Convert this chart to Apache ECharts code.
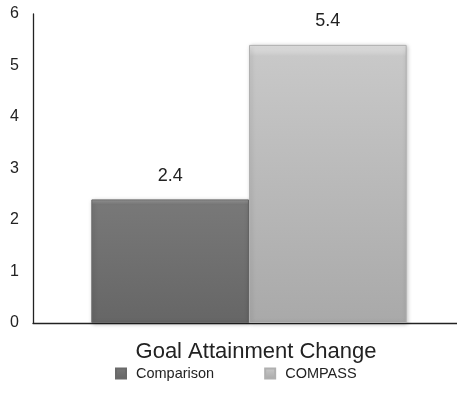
<!DOCTYPE html>
<html>
<head>
<meta charset="utf-8">
<style>
  html, body { margin: 0; padding: 0; background: #fff; overflow: hidden; }
  #chart { width: 465px; height: 409px; }
</style>
<script src="https://cdn.jsdelivr.net/npm/echarts@6/dist/echarts.min.js"></script>
</head>
<body>
<div id="chart"></div>
<script>
// Goal attainment change by group
const categories = ['Goal Attainment Change'];
const seriesNames = ['Comparison', 'COMPASS'];
const comparisonValues = [2.4];
const compassValues = [5.4];
const yTicks = [0, 1, 2, 3, 4, 5, 6];

const chart = echarts.init(document.getElementById('chart'), null, { renderer: 'canvas' });

function bevelFill(top, mid, bottom) {
  return new echarts.graphic.LinearGradient(0, 0, 0, 1, [
    { offset: 0, color: top },
    { offset: 0.04, color: mid },
    { offset: 1, color: bottom }
  ]);
}

const font = 'Liberation Sans, Arial, Helvetica, sans-serif';

chart.setOption({
  animation: false,
  textStyle: { fontFamily: font },
  grid: { left: 33, right: 0, top: 14, height: 309, containLabel: false },
  legend: {
    data: seriesNames,
    top: 361,
    left: 110,
    itemWidth: 10,
    itemHeight: 10,
    itemGap: 50,
    icon: 'rect',
    textStyle: { fontSize: 14.5, color: '#222', fontFamily: font, padding: [0, 0, 0, 5] }
  },
  xAxis: {
    type: 'category',
    data: categories,
    axisLine: { lineStyle: { color: '#222', width: 1.3 } },
    axisTick: { show: false },
    axisLabel: { fontSize: 22, color: '#222', margin: 18, fontFamily: font, padding: [0, 0, 0, 14] }
  },
  yAxis: {
    type: 'value',
    min: yTicks[0],
    max: yTicks[yTicks.length - 1],
    interval: 1,
    splitLine: { show: false },
    axisLine: { show: true, lineStyle: { color: '#222', width: 1.3 } },
    axisTick: { show: false },
    axisLabel: { fontSize: 16, color: '#222', margin: 14, fontFamily: font }
  },
  series: [
    {
      name: seriesNames[0],
      type: 'bar',
      data: comparisonValues,
      barWidth: '36.5%',
      barGap: '0%',
      itemStyle: {
        color: bevelFill('#9a9a9a', '#787878', '#666666'),
        borderColor: '#6a6a6a',
        borderWidth: 1,
        shadowColor: 'rgba(0,0,0,0.25)',
        shadowBlur: 4,
        shadowOffsetX: 1,
        shadowOffsetY: 1
      },
      label: { show: true, position: 'top', distance: 14, fontSize: 18, color: '#222', fontFamily: font }
    },
    {
      name: seriesNames[1],
      type: 'bar',
      data: compassValues,
      barWidth: '36.5%',
      barGap: '0%',
      itemStyle: {
        color: bevelFill('#e6e6e6', '#c8c8c8', '#a9a9a9'),
        borderColor: '#b0b0b0',
        borderWidth: 1,
        shadowColor: 'rgba(0,0,0,0.25)',
        shadowBlur: 4,
        shadowOffsetX: 1,
        shadowOffsetY: 1
      },
      label: { show: true, position: 'top', distance: 15, fontSize: 18, color: '#222', fontFamily: font }
    }
  ]
});
</script>
</body>
</html>
